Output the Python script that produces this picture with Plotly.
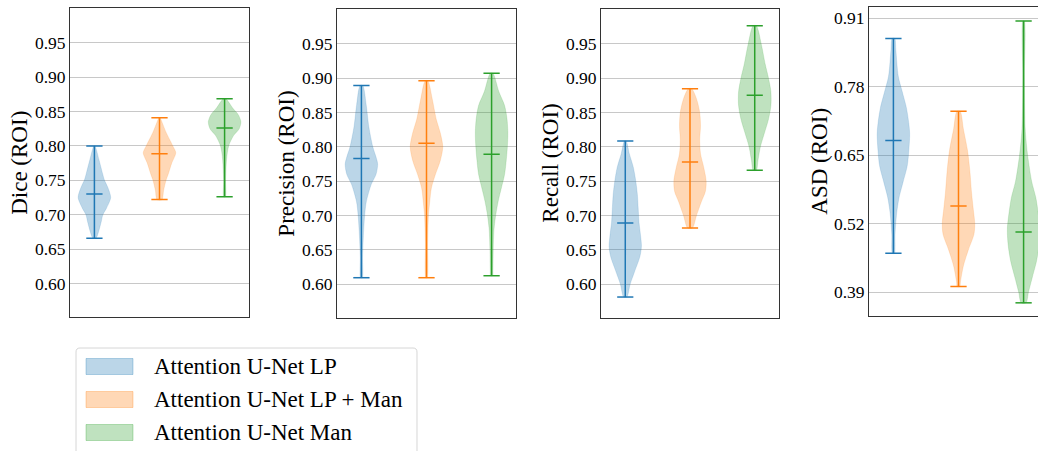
import plotly.graph_objects as go

W, H = 1038, 451
FONT = "Liberation Serif"

models = ["Attention U-Net LP", "Attention U-Net LP + Man", "Attention U-Net Man"]
line_colors = ["#1f77b4", "#ff7f0e", "#2ca02c"]
fill_colors = ["rgba(31,119,180,0.3)", "rgba(255,127,14,0.3)", "rgba(44,160,44,0.3)"]
positions = [1, 2, 3]
metric_titles = ["Dice (ROI)", "Precision (ROI)", "Recall (ROI)", "ASD (ROI)"]

# ---- density profiles: value levels (min..max) and relative width ----
dice_lp_y = [0.666, 0.675, 0.69, 0.70, 0.71, 0.725, 0.74, 0.75, 0.76, 0.78, 0.80]
dice_lp_w = [0.10, 0.25, 0.42, 0.52, 0.75, 1.00, 0.82, 0.62, 0.50, 0.28, 0.03]
dice_lpm_y = [0.722, 0.735, 0.75, 0.76, 0.775, 0.79, 0.80, 0.82, 0.84, 0.841]
dice_lpm_w = [0.15, 0.25, 0.40, 0.55, 0.75, 1.00, 0.82, 0.40, 0.06, 0.03]
dice_man_y = [0.726, 0.75, 0.78, 0.80, 0.815, 0.825, 0.835, 0.845, 0.855, 0.8685]
dice_man_w = [0.05, 0.06, 0.12, 0.25, 0.55, 0.90, 1.00, 0.85, 0.50, 0.08]

prec_lp_y = [0.6096, 0.64, 0.67, 0.70, 0.72, 0.745, 0.76, 0.775, 0.785, 0.80, 0.83, 0.86, 0.889]
prec_lp_w = [0.05, 0.07, 0.12, 0.20, 0.30, 0.60, 0.90, 1.00, 0.90, 0.70, 0.45, 0.30, 0.08]
prec_lpm_y = [0.6096, 0.66, 0.70, 0.72, 0.74, 0.76, 0.78, 0.80, 0.82, 0.84, 0.87, 0.896]
prec_lpm_w = [0.04, 0.07, 0.12, 0.20, 0.30, 0.55, 0.85, 1.00, 0.85, 0.60, 0.35, 0.08]
prec_man_y = [0.6125, 0.62, 0.65, 0.68, 0.70, 0.72, 0.74, 0.76, 0.78, 0.80, 0.82, 0.84, 0.86, 0.88, 0.907]
prec_man_w = [0.06, 0.08, 0.10, 0.15, 0.25, 0.40, 0.60, 0.80, 0.90, 0.97, 1.00, 0.95, 0.80, 0.45, 0.08]

rec_lp_y = [0.5815, 0.60, 0.62, 0.64, 0.655, 0.67, 0.69, 0.71, 0.73, 0.75, 0.77, 0.79, 0.8084]
rec_lp_w = [0.10, 0.30, 0.60, 0.90, 1.00, 0.95, 0.85, 0.80, 0.75, 0.65, 0.50, 0.25, 0.05]
rec_lpm_y = [0.682, 0.70, 0.72, 0.735, 0.75, 0.77, 0.79, 0.81, 0.83, 0.85, 0.87, 0.8845]
rec_lpm_w = [0.15, 0.40, 0.70, 0.95, 1.00, 0.85, 0.65, 0.60, 0.65, 0.60, 0.40, 0.10]
rec_man_y = [0.766, 0.78, 0.80, 0.82, 0.84, 0.86, 0.88, 0.90, 0.92, 0.95, 0.976]
rec_man_w = [0.10, 0.20, 0.35, 0.60, 0.85, 1.00, 1.00, 0.85, 0.65, 0.40, 0.10]

asd_lp_y = [0.464, 0.50, 0.54, 0.57, 0.60, 0.63, 0.66, 0.69, 0.71, 0.74, 0.77, 0.80, 0.85, 0.872]
asd_lp_w = [0.06, 0.10, 0.20, 0.35, 0.60, 0.85, 0.95, 1.00, 0.95, 0.80, 0.55, 0.30, 0.15, 0.08]
asd_lpm_y = [0.401, 0.41, 0.44, 0.47, 0.50, 0.52, 0.55, 0.58, 0.62, 0.66, 0.70, 0.7335]
asd_lpm_w = [0.08, 0.12, 0.30, 0.60, 0.95, 1.00, 0.90, 0.80, 0.70, 0.55, 0.30, 0.10]
asd_man_y = [0.370, 0.39, 0.42, 0.45, 0.48, 0.51, 0.54, 0.57, 0.60, 0.65, 0.70, 0.80, 0.905]
asd_man_w = [0.15, 0.30, 0.55, 0.80, 0.95, 1.00, 0.90, 0.75, 0.50, 0.25, 0.10, 0.05, 0.04]

dice_mean = [0.730, 0.7885, 0.826]
prec_mean = [0.783, 0.805, 0.789]
rec_mean = [0.689, 0.778, 0.875]
asd_mean = [0.678, 0.554, 0.5045]

# y-axis tick labels / ranges
roi_ticks = [0.60, 0.65, 0.70, 0.75, 0.80, 0.85, 0.90, 0.95]
asd_ticks = [0.39, 0.52, 0.65, 0.78, 0.91]
roi_range = [0.551, 1.0]
asd_range = [0.345, 0.931]

profiles = [
    [(dice_lp_y, dice_lp_w), (dice_lpm_y, dice_lpm_w), (dice_man_y, dice_man_w)],
    [(prec_lp_y, prec_lp_w), (prec_lpm_y, prec_lpm_w), (prec_man_y, prec_man_w)],
    [(rec_lp_y, rec_lp_w), (rec_lpm_y, rec_lpm_w), (rec_man_y, rec_man_w)],
    [(asd_lp_y, asd_lp_w), (asd_lpm_y, asd_lpm_w), (asd_man_y, asd_man_w)],
]
means = [dice_mean, prec_mean, rec_mean, asd_mean]

# ---- layout geometry (pixels) ----
panels = [  # left, right, top, bottom
    (70, 249, 8.3, 317.3),
    (337, 516, 9.3, 318),
    (601, 779, 9.3, 318),
    (869, 1048, 7.3, 316),
]
VW = 0.5  # violin width in position units
XR = [0.625, 3.375]

fig = go.Figure()
layout = dict(
    width=W, height=H, margin=dict(l=0, r=0, t=0, b=0, pad=0),
    paper_bgcolor="white", plot_bgcolor="white", showlegend=False,
    font=dict(family=FONT, color="black"),
)

for k in range(4):
    xa = "x" if k == 0 else f"x{k+1}"
    ya = "y" if k == 0 else f"y{k+1}"
    for j in range(3):
        ys, ws = profiles[k][j]
        p = positions[j]
        px = [p + VW / 2 * w for w in ws] + [p - VW / 2 * w for w in ws[::-1]]
        py = list(ys) + list(ys[::-1])
        px.append(px[0]); py.append(py[0])
        fig.add_trace(go.Scatter(
            x=px, y=py, xaxis=xa, yaxis=ya, mode="lines", fill="toself",
            fillcolor=fill_colors[j], line=dict(color=fill_colors[j], width=0.5, shape="spline", smoothing=0.8),
            hoverinfo="skip", name=models[j]))
        vmin, vmax, vmean = ys[0], ys[-1], means[k][j]
        cx, cy = [], []
        for v in (vmin, vmax, vmean):
            cx += [p - VW / 4, p + VW / 4, None]
            cy += [v, v, None]
        cx += [p, p]
        cy += [vmin, vmax]
        fig.add_trace(go.Scatter(x=cx, y=cy, xaxis=xa, yaxis=ya, mode="lines",
                                 line=dict(color=line_colors[j], width=1.5), hoverinfo="skip"))

    l, r, t, b = panels[k]
    xr = list(XR)
    if r > W:
        xr[1] = XR[0] + (W - l) / (r - l) * (XR[1] - XR[0])
        r = W
    dom_x = [l / W, r / W]
    dom_y = [1 - b / H, 1 - t / H]
    xkey = "xaxis" if k == 0 else f"xaxis{k+1}"
    ykey = "yaxis" if k == 0 else f"yaxis{k+1}"
    layout[xkey] = dict(domain=dom_x, range=xr, showticklabels=False, ticks="", showgrid=False,
                        zeroline=False, showline=True, linecolor="#333333", linewidth=1, mirror=True,
                        anchor=ya.replace("y", "y") , fixedrange=True)
    tv = asd_ticks if k == 3 else roi_ticks
    layout[ykey] = dict(domain=dom_y, range=asd_range if k == 3 else roi_range,
                        tickvals=tv, ticktext=[f"{v:.2f}" for v in tv], ticks="",
                        tickfont=dict(family=FONT, size=17.5, color="black"),
                        showgrid=True, gridcolor="#c8c8c8", gridwidth=1, zeroline=False,
                        showline=True, linecolor="#333333", linewidth=1, mirror=(k != 3),
                        anchor=xa, automargin=False, fixedrange=True)
    layout[xkey]["anchor"] = ya

fig.update_layout(**layout)

# y-axis titles
title_x = [20, 287, 551, 820]
annotations = []
for k in range(4):
    l, r, t, b = panels[k]
    annotations.append(dict(text=metric_titles[k], x=title_x[k] / W, y=1 - (t + b) / 2 / H,
                            xref="paper", yref="paper", textangle=-90, showarrow=False,
                            xanchor="center", yanchor="middle",
                            font=dict(family=FONT, size=23, color="black")))

# legend (drawn manually to match the matplotlib legend box)
shapes = []
def P(x, y):
    return f"{x / W:.5f},{1 - y / H:.5f}"
shapes.append(dict(type="path", xref="paper", yref="paper",
                   path=f"M {P(76, 470)} L {P(76, 352)} Q {P(76, 348)} {P(80, 348)} L {P(413, 348)} Q {P(417, 348)} {P(417, 352)} L {P(417, 470)}",
                   line=dict(color="#d6d6d6", width=1), fillcolor="white"))
row_y = [366.5, 399.5, 432.5]
for j in range(3):
    shapes.append(dict(type="rect", xref="paper", yref="paper",
                       x0=86 / W, x1=133 / W, y0=1 - (row_y[j] + 8) / H, y1=1 - (row_y[j] - 8) / H,
                       fillcolor=fill_colors[j], line=dict(color=fill_colors[j], width=1)))
    annotations.append(dict(text=models[j], x=152 / W, y=1 - row_y[j] / H, xref="paper", yref="paper",
                            showarrow=False, xanchor="left", yanchor="middle",
                            font=dict(family=FONT, size=23, color="black")))

fig.update_layout(annotations=annotations, shapes=shapes)
fig.write_html("out.html")
